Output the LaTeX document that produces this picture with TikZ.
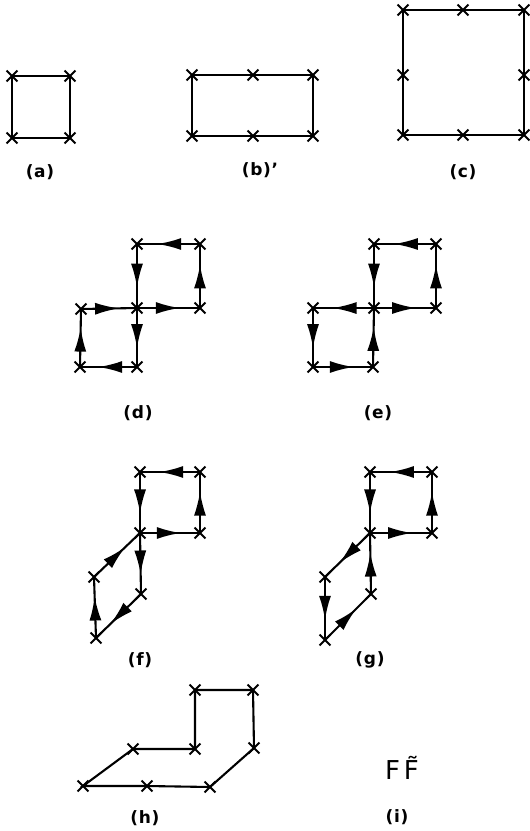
\documentclass[tikz,border=0pt]{standalone}
\usepackage{fontspec}
\setmainfont{DejaVu Sans}[LetterSpace=4]
\usetikzlibrary{shapes.misc,decorations.markings,arrows.meta}
\tikzset{
  xx/.style={cross out, draw, minimum size=9pt, inner sep=0pt, line width=1.9pt},
  ln/.style={line width=2.1pt},
  ar/.style={ln, postaction={decorate}, decoration={markings, mark=at position #1 with {\arrow{Latex[length=24pt,width=12pt]}}}},
  ar/.default=0.68,
  lab/.style={font=\fontsize{17}{20}\selectfont\bfseries}
}
\begin{document}
\begin{tikzpicture}[x=1pt,y=-1pt]
\useasboundingbox (0,0) rectangle (530,831);
% (a)
\node[xx] (a1) at (12,76) {};
\node[xx] (a2) at (70,76) {};
\node[xx] (a3) at (70,138) {};
\node[xx] (a4) at (12,138) {};
\draw[ln] (a1.center) -- (a2.center) -- (a3.center) -- (a4.center) -- cycle;
\node[lab] (la) at (40,172) {(a)};
% (b)
\node[xx] (b1) at (192,75) {};
\node[xx] (b2) at (253,75) {};
\node[xx] (b3) at (313,75) {};
\node[xx] (b4) at (313,136) {};
\node[xx] (b5) at (253,136) {};
\node[xx] (b6) at (192,136) {};
\draw[ln] (b1.center) -- (b2.center) -- (b3.center) -- (b4.center) -- (b5.center) -- (b6.center) -- cycle;
\node[lab] (lb) at (260,170) {(b)'};
% (c)
\node[xx] (c1) at (403,10) {};
\node[xx] (c2) at (463,10) {};
\node[xx] (c3) at (524,10) {};
\node[xx] (c4) at (524,75) {};
\node[xx] (c5) at (524,135) {};
\node[xx] (c6) at (463,135) {};
\node[xx] (c7) at (403,135) {};
\node[xx] (c8) at (403,75) {};
\draw[ln] (c1.center) -- (c2.center) -- (c3.center) -- (c4.center) -- (c5.center) -- (c6.center) -- (c7.center) -- (c8.center) -- cycle;
\node[lab] (lc) at (463,172) {(c)};
% (d)
\node[xx] (d1) at (137,244) {};
\node[xx] (d2) at (200,244) {};
\node[xx] (d3) at (137,308) {};
\node[xx] (d4) at (200,308) {};
\node[xx] (d5) at (81,309) {};
\node[xx] (d6) at (80,367) {};
\node[xx] (d7) at (137,367) {};
\draw[ar] (d2.center) -- (d1.center);
\draw[ar] (d1.center) -- (d3.center);
\draw[ar] (d3.center) -- (d4.center);
\draw[ar] (d4.center) -- (d2.center);
\draw[ar] (d5.center) -- (d3.center);
\draw[ar] (d3.center) -- (d7.center);
\draw[ar] (d7.center) -- (d6.center);
\draw[ar] (d6.center) -- (d5.center);
\node[lab] (ld) at (138,413) {(d)};
% (e)
\node[xx] (e1) at (374,244) {};
\node[xx] (e2) at (436,244) {};
\node[xx] (e3) at (374,308) {};
\node[xx] (e4) at (436,308) {};
\node[xx] (e5) at (313,308) {};
\node[xx] (e6) at (313,367) {};
\node[xx] (e7) at (373,367) {};
\draw[ar] (e2.center) -- (e1.center);
\draw[ar] (e1.center) -- (e3.center);
\draw[ar] (e3.center) -- (e4.center);
\draw[ar] (e4.center) -- (e2.center);
\draw[ar] (e3.center) -- (e5.center);
\draw[ar] (e5.center) -- (e6.center);
\draw[ar] (e6.center) -- (e7.center);
\draw[ar] (e7.center) -- (e3.center);
\node[lab] (le) at (378,413) {(e)};
% (f)
\node[xx] (f1) at (140,472) {};
\node[xx] (f2) at (200,472) {};
\node[xx] (f3) at (140,533) {};
\node[xx] (f4) at (200,533) {};
\node[xx] (f5) at (94,577) {};
\node[xx] (f6) at (96,638) {};
\node[xx] (f7) at (141,594) {};
\draw[ar] (f2.center) -- (f1.center);
\draw[ar] (f1.center) -- (f3.center);
\draw[ar] (f3.center) -- (f4.center);
\draw[ar] (f4.center) -- (f2.center);
\draw[ar] (f5.center) -- (f3.center);
\draw[ar] (f3.center) -- (f7.center);
\draw[ar] (f7.center) -- (f6.center);
\draw[ar] (f6.center) -- (f5.center);
\node[lab] (lf) at (140,660) {(f)};
% (g)
\node[xx] (g1) at (370,472) {};
\node[xx] (g2) at (432,472) {};
\node[xx] (g3) at (370,533) {};
\node[xx] (g4) at (432,533) {};
\node[xx] (g5) at (325,577) {};
\node[xx] (g6) at (325,640) {};
\node[xx] (g7) at (371,594) {};
\draw[ar] (g2.center) -- (g1.center);
\draw[ar] (g1.center) -- (g3.center);
\draw[ar] (g3.center) -- (g4.center);
\draw[ar] (g4.center) -- (g2.center);
\draw[ar] (g3.center) -- (g5.center);
\draw[ar] (g7.center) -- (g3.center);
\draw[ar] (g5.center) -- (g6.center);
\draw[ar] (g6.center) -- (g7.center);
\node[lab] (lg) at (370,660) {(g)};
% (h)
\node[xx] (h1) at (195,690) {};
\node[xx] (h2) at (253,690) {};
\node[xx] (h3) at (195,749) {};
\node[xx] (h4) at (254,748) {};
\node[xx] (h5) at (133,749) {};
\node[xx] (h6) at (83,786) {};
\node[xx] (h7) at (147,786) {};
\node[xx] (h8) at (210,787) {};
\draw[ln] (h1.center) -- (h2.center) -- (h4.center) -- (h8.center) -- (h7.center) -- (h6.center) -- (h5.center) -- (h3.center) -- cycle;
\node[lab] (lh) at (145,818) {(h)};
% (i)
\node[font=\fontsize{26}{28}\selectfont] (ff) at (402,768) {F\kern4pt F̃};
\node[lab] (li) at (397,817) {(i)};
\end{tikzpicture}
\end{document}
